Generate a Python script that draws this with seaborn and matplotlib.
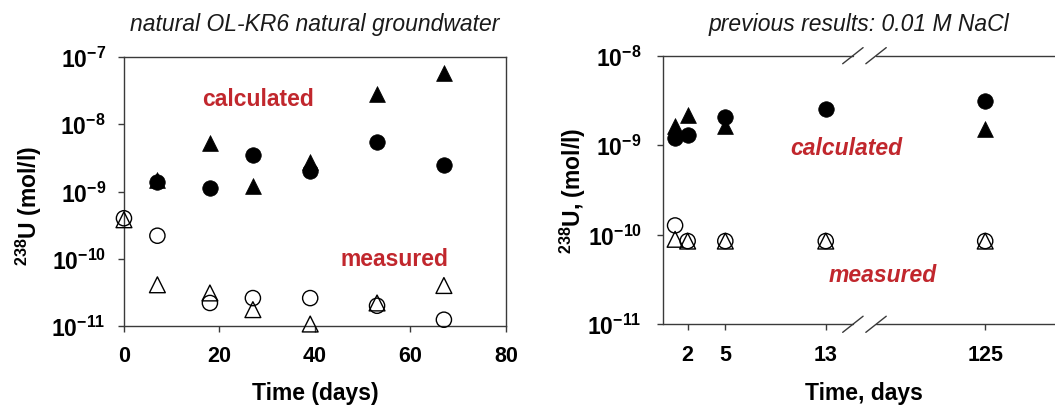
import numpy as np
import pandas as pd
import matplotlib
matplotlib.use("Agg")
import matplotlib.pyplot as plt
from matplotlib.ticker import FixedLocator, FixedFormatter, NullLocator
import seaborn as sns

# ---------------- data ----------------
# Left panel: natural OL-KR6 natural groundwater
calc_tri_L_days = [7, 18, 27, 39, 53, 67]
calc_tri_L = [1.5e-9, 5.3e-9, 1.2e-9, 2.7e-9, 2.8e-8, 5.8e-8]
calc_circ_L_days = [7, 18, 27, 39, 53, 67]
calc_circ_L = [1.4e-9, 1.13e-9, 3.5e-9, 2.0e-9, 5.4e-9, 2.5e-9]
meas_L_days = [0, 7, 18, 27, 39, 53, 67]
meas_circ_L = [4.0e-10, 2.2e-10, 2.2e-11, 2.6e-11, 2.6e-11, 2.0e-11, 1.24e-11]
meas_tri_L = [3.8e-10, 4.1e-11, 3.1e-11, 1.75e-11, 1.07e-11, 2.2e-11, 4.0e-11]

# Right panel: previous results, 0.01 M NaCl
calc_tri_R_days = [1, 2, 5, 125]
calc_tri_R = [1.65e-9, 2.2e-9, 1.65e-9, 1.52e-9]
calc_circ_R_days = [1, 2, 5, 13, 125]
calc_circ_R = [1.2e-9, 1.29e-9, 2.09e-9, 2.54e-9, 3.1e-9]
meas_R_days = [1, 2, 5, 13, 125]
meas_circ_R = [1.27e-10, 8.5e-11, 8.5e-11, 8.5e-11, 8.5e-11]
meas_tri_R = [8.9e-11, 8.5e-11, 8.5e-11, 8.5e-11, 8.5e-11]

# ticks / labels
xticks_L = [0, 20, 40, 60, 80]
yticks_L = [1e-11, 1e-10, 1e-9, 1e-8, 1e-7]
ylabels_L = [r"$\mathbf{10^{-11}}$", r"$\mathbf{10^{-10}}$", r"$\mathbf{10^{-9}}$",
             r"$\mathbf{10^{-8}}$", r"$\mathbf{10^{-7}}$"]
xticks_R = [2, 5, 13, 125]
yticks_R = [1e-11, 1e-10, 1e-9, 1e-8]
ylabels_R = ylabels_L[:4]

title_L = "natural OL-KR6 natural groundwater"
title_R = "previous results: 0.01 M NaCl"

# ---------------- style ----------------
sns.set_style("ticks")
plt.rcParams["font.family"] = ["Liberation Sans", "DejaVu Sans"]
plt.rcParams["mathtext.fontset"] = "custom"
plt.rcParams["mathtext.rm"] = "Liberation Sans"
plt.rcParams["mathtext.bf"] = "Liberation Sans:bold"
plt.rcParams["mathtext.it"] = "Liberation Sans:italic"
plt.rcParams["mathtext.default"] = "bf"
plt.rcParams["text.color"] = "black"
plt.rcParams["axes.labelcolor"] = "black"
plt.rcParams["xtick.color"] = "black"
plt.rcParams["ytick.color"] = "black"

RED = "#c1272d"
SPINE = "#3a3a3a"

fig = plt.figure(figsize=(10.55, 4.06), dpi=100)
axL = fig.add_axes([0.1175, 0.1946, 0.3621, 0.6625])
axR = fig.add_axes([0.628, 0.1988, 0.372, 0.6616])


def draw_points(ax, tri_d, tri_v, circ_d, circ_v, md, mc, mt):
    sns.scatterplot(x=tri_d, y=tri_v, ax=ax, marker="^", s=130, color="black",
                    edgecolor="black", linewidth=0.5, zorder=3)
    sns.scatterplot(x=circ_d, y=circ_v, ax=ax, marker="o", s=125, color="black",
                    edgecolor="black", linewidth=0.5, zorder=4)
    sns.scatterplot(x=md, y=mc, ax=ax, marker="o", s=120, color="black",
                    facecolor="none", edgecolor="black", linewidth=1.0, zorder=4)
    sns.scatterplot(x=md, y=mt, ax=ax, marker="^", s=130, color="black",
                    facecolor="none", edgecolor="black", linewidth=1.0, zorder=4)
    for coll in ax.collections:
        coll.set_clip_on(False)


# ---- left panel ----
axL.set_yscale("log")
draw_points(axL, calc_tri_L_days, calc_tri_L, calc_circ_L_days, calc_circ_L,
            meas_L_days, meas_circ_L, meas_tri_L)
axL.set_xlim(0, 80)
axL.set_ylim(1e-11, 1e-7)
axL.xaxis.set_major_locator(FixedLocator(xticks_L))
axL.yaxis.set_major_locator(FixedLocator(yticks_L))
axL.yaxis.set_major_formatter(FixedFormatter(ylabels_L))
axL.yaxis.set_minor_locator(NullLocator())
for sp in axL.spines.values():
    sp.set_visible(True)
    sp.set_color(SPINE)
    sp.set_linewidth(1.0)
axL.tick_params(axis="x", labelsize=15.5, length=4, width=1, color=SPINE,
                pad=10, labelcolor="black")
axL.tick_params(axis="y", labelsize=16.5, length=4, width=1, color=SPINE,
                pad=9, labelcolor="black")
for lab in axL.get_xticklabels():
    lab.set_fontweight("bold")
axL.set_xlabel("Time (days)", fontsize=16.5, fontweight="bold")
axL.xaxis.set_label_coords(0.5, -0.205)
axL.set_ylabel(r"$^{238}$U (mol/l)", fontsize=16.5, fontweight="bold")
axL.yaxis.set_label_coords(-0.21, 0.45)
axL.text(0.351, 0.844, "calculated", transform=axL.transAxes, color=RED,
         fontsize=16.5, fontweight="bold", ha="center", va="center")
axL.text(0.708, 0.252, "measured", transform=axL.transAxes, color=RED,
         fontsize=16.5, fontweight="bold", ha="center", va="center")
fig.text((0.1175 + 0.1175 + 0.3621) / 2, 1 - 25 / 406, title_L, fontsize=16.5,
         style="italic", ha="center", va="center", color="#1a1a1a")

# ---- right panel (broken x axis) ----
K = 10.7 / 110.0
BRK = 15.0


def fwd(x):
    x = np.asarray(x, dtype=float)
    return np.where(x <= BRK, x, BRK + (x - BRK) * K)


def inv(y):
    y = np.asarray(y, dtype=float)
    return np.where(y <= BRK, y, BRK + (y - BRK) / K)


axR.set_xscale("function", functions=(fwd, inv))
axR.set_yscale("log")
draw_points(axR, calc_tri_R_days, calc_tri_R, calc_circ_R_days, calc_circ_R,
            meas_R_days, meas_circ_R, meas_tri_R)
axR.set_xlim(0, float(inv(31.26)))
axR.set_ylim(1e-11, 1e-8)
axR.xaxis.set_major_locator(FixedLocator(xticks_R))
axR.xaxis.set_major_formatter(FixedFormatter([str(t) for t in xticks_R]))
axR.xaxis.set_minor_locator(NullLocator())
axR.yaxis.set_major_locator(FixedLocator(yticks_R))
axR.yaxis.set_major_formatter(FixedFormatter(ylabels_R))
axR.yaxis.set_minor_locator(NullLocator())
axR.spines["left"].set_color(SPINE)
axR.spines["left"].set_linewidth(1.0)
for s in ["top", "bottom", "right"]:
    axR.spines[s].set_visible(False)
# broken top/bottom spines with slash marks
g0, g1 = 0.485, 0.544
for yy in (0.0, 1.0):
    axR.plot([0, g0], [yy, yy], transform=axR.transAxes, color=SPINE, lw=1.0,
             clip_on=False, zorder=5)
    axR.plot([g1, 1.0], [yy, yy], transform=axR.transAxes, color=SPINE, lw=1.0,
             clip_on=False, zorder=5)
    for xc in (g0, g1):
        axR.plot([xc - 0.026, xc + 0.026], [yy - 0.03, yy + 0.03],
                 transform=axR.transAxes, color=SPINE, lw=1.0, clip_on=False,
                 zorder=5)
axR.tick_params(axis="x", labelsize=15.5, length=4, width=1, color=SPINE,
                pad=10, labelcolor="black")
axR.tick_params(axis="y", labelsize=16.5, length=4, width=1, color=SPINE,
                pad=11, labelcolor="black")
for lab in axR.get_xticklabels():
    lab.set_fontweight("bold")
axR.set_xlabel("Time, days", fontsize=16.5, fontweight="bold")
axR.xaxis.set_label_coords(0.513, -0.212)
axR.set_ylabel(r"$^{238}$U, (mol/l)", fontsize=16.5, fontweight="bold")
axR.yaxis.set_label_coords(-0.19, 0.5)
axR.text(0.468, 0.659, "calculated", transform=axR.transAxes, color=RED,
         fontsize=16.5, fontweight="bold", style="italic", ha="center", va="center")
axR.text(0.560, 0.186, "measured", transform=axR.transAxes, color=RED,
         fontsize=16.5, fontweight="bold", style="italic", ha="center", va="center")
fig.text(0.628 + 0.372 / 2, 1 - 25 / 406, title_R, fontsize=16.5,
         style="italic", ha="center", va="center", color="#1a1a1a")

fig.savefig("out.png", dpi=100)
